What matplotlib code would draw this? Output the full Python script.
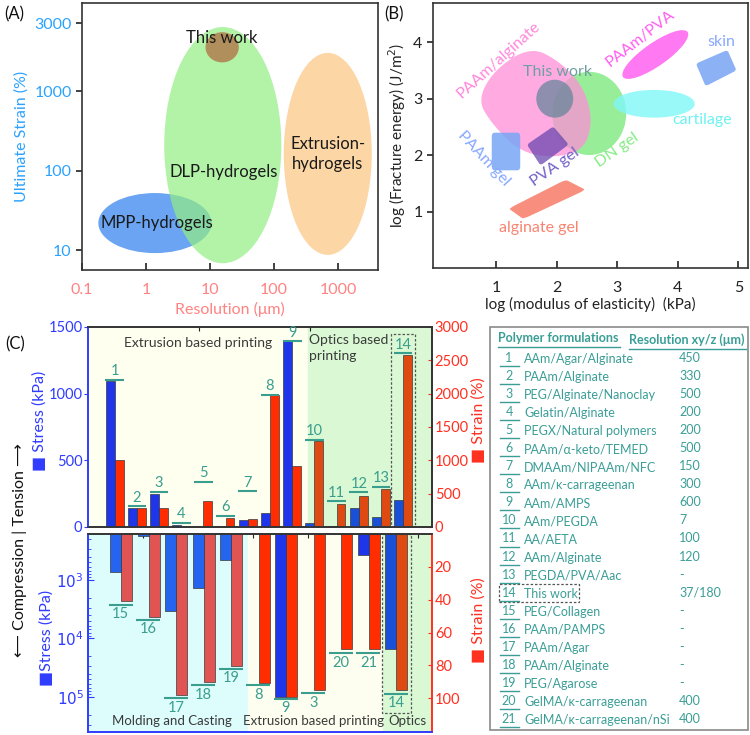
import numpy as np
import matplotlib
matplotlib.use('Agg')
import matplotlib.pyplot as plt
from matplotlib.patches import Ellipse, Polygon, Rectangle
from matplotlib.lines import Line2D
from matplotlib.ticker import LogLocator, NullFormatter, FixedLocator

plt.rcParams['font.family'] = ['Lato', 'DejaVu Sans']
plt.rcParams['axes.linewidth'] = 1.2

# ---------------- Panel A data (axis units: log10 resolution, strain-axis units)
a_names = ['MPP-hydrogels', 'DLP-hydrogels', 'Extrusion-\nhydrogels', 'This work']
a_log_res = [0.14, 1.20, 2.84, 1.19]
a_log_strain = [1.34, 2.32, 2.21, 3.55]
a_width = [1.77, 1.83, 1.375, 0.52]
a_height = [0.755, 2.97, 2.54, 0.38]
a_label_x = [0.17, 1.22, 2.84, 1.19]
a_label_y = [1.34, 1.98, 2.21, 3.67]
a_xtick_vals = ['0.1', '1', '10', '100', '1000']
a_xtick_pos = [-1, 0, 1, 2, 3]
a_ytick_vals = ['10', '100', '1000', '3000']
a_ytick_pos = [1, 2, 3, 3.85]

# ---------------- Panel B data (log modulus kPa, log fracture energy J/m2)
b_pink = [(1.57, 3.92), (2.05, 3.66), (2.44, 3.22), (2.60, 2.62), (2.45, 2.08),
          (1.90, 1.95), (1.35, 2.09), (0.90, 2.60), (0.70, 2.99), (0.98, 3.52)]
b_paam_gel = [(0.93, 2.40), (1.40, 2.40), (1.40, 1.735), (0.93, 1.735)]
b_skin = [(4.30, 3.62), (4.82, 3.86), (4.97, 3.50), (4.46, 3.22)]
b_pva = [(1.51, 2.19), (1.945, 2.51), (2.20, 2.19), (1.735, 1.82)]
b_alginate = [(1.21, 1.06), (2.15, 1.57), (2.48, 1.39), (1.45, 0.876)]
b_dn = dict(xy=(2.54, 2.74), w=1.22, h=1.47)
b_this = dict(xy=(1.97, 3.0), w=0.61, h=0.67)
b_cart = dict(xy=(3.61, 2.91), w=1.34, h=0.49)
b_pva_pva = dict(xy=(3.63, 3.78), w=1.33, h=0.40, angle=37)
b_labels = ['PAAm/alginate', 'This work', 'PAAm/PVA', 'skin', 'cartilage', 'DN gel',
            'PVA gel', 'PAAm gel', 'alginate gel']
b_lab_x = [1.04, 2.01, 3.38, 4.72, 4.41, 3.0, 1.98, 0.80, 1.71]
b_lab_y = [3.69, 3.47, 4.07, 4.0, 2.62, 2.09, 1.79, 1.94, 0.71]
b_lab_rot = [42, 0, 38, 0, 0, 35, 35, -47, 0]
b_lab_col = ['#ff86dc', '#6f9ea2', '#ff5ff0', '#86a8ff', '#6ff2f2', '#86ec86',
             '#7462c8', '#86a8ff', '#f98472']

# ---------------- Panel C data
up_ids = list(range(1, 15))
up_stress = [1096, 143, 251, 12, np.nan, np.nan, 50, 103, 1392, 28, 5, 145, 73, 200]
up_strain = [1003, 286, 286, np.nan, 386, 135, 120, 1977, 913, 1290, 341, 467, 567, 2584]
up_label_y = [1104, 155, 263, 33, 339, 83, 268, 993, 1392, 652, 193, 261, 301, 1304]
up_region = ['E'] * 9 + ['O'] * 5

lo_ids = [15, 16, 17, 18, 19, 8, 9, 3, 20, 21, 14]
lo_stress = [740, 180, 3400, 1360, 450, np.nan, 100000, np.nan, np.nan, 370, 15000]
lo_strain = [40.6, 50.7, 98, 90, 80.5, 91, 99, 95.3, 70, 70, 95]
lo_label_y = [43, 52.3, 100, 92, 82, 92, 100.4, 97, 72.6, 72.6, 97.4]
lo_region = ['M'] * 5 + ['E'] * 5 + ['O']

blue_c = {'M': '#2464ee', 'E': '#1f35ea', 'O': '#1a4fd8'}
red_c = {'M': '#e05454', 'E': '#ff2d00', 'O': '#de4a12'}

tab_names = ['AAm/Agar/Alginate', 'PAAm/Alginate', 'PEG/Alginate/Nanoclay', 'Gelatin/Alginate',
             'PEGX/Natural polymers', 'PAAm/α-keto/TEMED', 'DMAAm/NIPAAm/NFC', 'AAm/κ-carrageenan',
             'AAm/AMPS', 'AAm/PEGDA', 'AA/AETA', 'AAm/Alginate', 'PEGDA/PVA/Aac', 'This work',
             'PEG/Collagen', 'PAAm/PAMPS', 'PAAm/Agar', 'PAAm/Alginate', 'PEG/Agarose',
             'GelMA/κ-carrageenan', 'GelMA/κ-carrageenan/nSi']
tab_res = ['450', '330', '500', '200', '200', '500', '150', '300', '600', '7', '100', '120',
           '-', '37/180', '-', '-', '-', '-', '-', '400', '400']

W, H = 750, 735
fig = plt.figure(figsize=(7.5, 7.35), dpi=100)


def box(x0, y0, x1, y1):
    return [x0 / W, 1 - y1 / H, (x1 - x0) / W, (y1 - y0) / H]


def P(x, y):
    return (x / W, 1 - y / H)


def chaikin(pts, it=4):
    pts = np.asarray(pts, float)
    for _ in range(it):
        nxt = np.roll(pts, -1, axis=0)
        q = 0.75 * pts + 0.25 * nxt
        r = 0.25 * pts + 0.75 * nxt
        out = np.empty((2 * len(pts), 2))
        out[0::2] = q
        out[1::2] = r
        pts = out
    return pts


def rounded(pts, cut=0.22, it=4):
    pts = np.asarray(pts, float)
    out = []
    n = len(pts)
    for i in range(n):
        a, b = pts[i], pts[(i + 1) % n]
        out += [a, a + cut * (b - a), a + (1 - cut) * (b - a)]
    return chaikin(np.array(out), it)


# ================= Panel A
axA = fig.add_axes(box(82, 3, 378, 270))
axA.set_xlim(-1, 3.625)
axA.set_ylim(0.75, 4.107)
a_colors = ['#6aa4f2', '#92ee84', '#fcd6a4', '#b08a58']
a_alpha = [1.0, 0.7, 1.0, 0.95]
a_z = [1, 2, 1, 3]
for i in range(4):
    axA.add_patch(Ellipse((a_log_res[i], a_log_strain[i]), a_width[i], a_height[i],
                          fc=a_colors[i], ec='none', alpha=a_alpha[i], zorder=a_z[i]))
for i in range(4):
    axA.text(a_label_x[i], a_label_y[i], a_names[i], ha='center', va='center',
             fontsize=12, color='#1a1a1a', zorder=5, linespacing=1.3)
axA.set_xticks(a_xtick_pos)
axA.set_xticklabels(a_xtick_vals)
axA.set_yticks(a_ytick_pos)
axA.set_yticklabels(a_ytick_vals)
axA.tick_params(axis='x', direction='in', length=5, width=1.2, colors='#222',
                labelcolor='#ff8282', labelsize=11.5, pad=9)
axA.tick_params(axis='y', direction='out', length=4, width=1.2, colors='#222',
                labelcolor='#2aa2ff', labelsize=11.5)
axA.set_xlabel('Resolution (μm)', color='#ff8282', fontsize=11.5, labelpad=4)
axA.set_ylabel('Ultimate Strain (%)', color='#2aa2ff', fontsize=11.5, labelpad=4)
for s in axA.spines.values():
    s.set_color('#333')

# ================= Panel B
axB = fig.add_axes(box(433, 3, 748, 268))
axB.set_xlim(-0.04, 5.16)
axB.set_ylim(0.01, 4.69)
axB.add_patch(Ellipse(b_dn['xy'], b_dn['w'], b_dn['h'], fc='#86ec86', ec='none', alpha=0.85, zorder=1))
axB.add_patch(Polygon(chaikin(b_pink), closed=True, fc='#ff8ed8', ec='none', alpha=0.75, zorder=2))
axB.add_patch(Ellipse(b_this['xy'], b_this['w'], b_this['h'], fc='#5f8499', ec='none', alpha=0.7, zorder=3))
axB.add_patch(Polygon(rounded(b_pva), closed=True, fc='#6b48b0', ec='none', alpha=0.75, zorder=3))
axB.add_patch(Polygon(rounded(b_paam_gel), closed=True, fc='#79a6f6', ec='none', alpha=0.85, zorder=3))
axB.add_patch(Polygon(rounded(b_alginate), closed=True, fc='#f77a66', ec='none', alpha=0.85, zorder=3))
axB.add_patch(Polygon(rounded(b_skin), closed=True, fc='#6f9ef2', ec='none', alpha=0.8, zorder=3))
axB.add_patch(Ellipse(b_cart['xy'], b_cart['w'], b_cart['h'], fc='#80f8f8', ec='none', alpha=0.8, zorder=3))
axB.add_patch(Ellipse(b_pva_pva['xy'], b_pva_pva['w'], b_pva_pva['h'], angle=b_pva_pva['angle'],
                      fc='#ff62f0', ec='none', alpha=0.85, zorder=3))
for i in range(len(b_labels)):
    axB.text(b_lab_x[i], b_lab_y[i], b_labels[i], rotation=b_lab_rot[i], color=b_lab_col[i],
             ha='center', va='center', fontsize=11.5, zorder=6, rotation_mode='anchor')
axB.set_xticks([1, 2, 3, 4, 5])
axB.set_yticks([1, 2, 3, 4])
axB.tick_params(axis='x', direction='in', length=5, width=1.2, colors='#222', labelsize=11.5, pad=9)
axB.tick_params(axis='y', direction='out', length=4, width=1.2, colors='#222', labelsize=11.5)
axB.set_xlabel('log (modulus of elasticity)  (kPa)', fontsize=11, color='#222', labelpad=2)
axB.set_ylabel('log (Fracture energy) (J/m$^2$)', fontsize=11, color='#222', labelpad=4)
for s in axB.spines.values():
    s.set_color('#333')

# ================= Panel C upper
bw = 0.4
teal = '#3a9e8e'
axUb = fig.add_axes(box(88, 327, 432, 527))
axUb.set_xlim(0, 15.5)
axUb.axvspan(0, 9.9, color='#fffff0')
axUb.axvspan(9.9, 15.5, color='#d9f8d3')
axUb.axis('off')
axU = fig.add_axes(box(88, 327, 432, 527))
axU.set_xlim(0, 15.5)
axU.set_ylim(0, 1500)
axU2 = axU.twinx()
axU2.set_ylim(0, 3000)
xu = np.array(up_ids, float)
axU.bar(xu, up_stress, width=bw, color=[blue_c[r] for r in up_region], edgecolor='#3a3a3a',
        linewidth=0.5, zorder=2)
axU2.bar(xu + bw, up_strain, width=bw, color=[red_c[r] for r in up_region], edgecolor='#3a3a3a',
         linewidth=0.5, zorder=2)
for i, n in enumerate(up_ids):
    axU.plot([xu[i] - 0.22, xu[i] + 0.62], [up_label_y[i]] * 2, color=teal, lw=1.5, zorder=5,
             solid_capstyle='butt', clip_on=False)
    axU.text(xu[i] + 0.2, up_label_y[i] + 12, str(n), color=teal, ha='center', va='bottom',
             fontsize=10.5, zorder=5, clip_on=False)
axU.add_patch(Rectangle((13.65, 0), 1.09, 1447, fill=False, ec='#555', ls=(0, (2, 1.5)), lw=0.9, zorder=6))
axU.text(4.96, 1380, 'Extrusion based printing', ha='center', va='center', fontsize=10, color='#3a3a3a')
axU.text(9.95, 1447, 'Optics based\nprinting', ha='left', va='top', fontsize=10, color='#3a3a3a',
         linespacing=1.35)
axU.set_yticks([0, 500, 1000, 1500])
axU2.set_yticks([0, 500, 1000, 1500, 2000, 2500, 3000])
axU.tick_params(axis='y', direction='out', length=3, colors='#2f3cff', labelcolor='#2f3cff', labelsize=10.5, pad=1)
axU2.tick_params(axis='y', direction='in', length=3, colors='#ff3020', labelcolor='#ff3020', labelsize=10.5, pad=2)
axU.set_xticks([5, 10])
axU.tick_params(axis='x', top=True, bottom=False, labelbottom=False, direction='in', length=3,
                colors='#222')
axU.spines['left'].set_color('#2f3cff')
axU2.spines['left'].set_color('#2f3cff')
for k in ['right', 'top', 'bottom']:
    axU2.spines[k].set_color('#333')
    axU.spines[k].set_color('#333')
axU.set_zorder(axU2.get_zorder() + 1)
axU.patch.set_visible(False)
axU2.patch.set_visible(False)

# ================= Panel C lower
axLb = fig.add_axes(box(88, 534, 432, 732))
axLb.set_xlim(0, 12.5)
axLb.axvspan(0, 5.8, color='#ddfcfc')
axLb.axvspan(5.8, 10.72, color='#fefef0')
axLb.axvspan(10.72, 12.5, color='#d9f8d3')
axLb.axis('off')
axL = fig.add_axes(box(88, 534, 432, 732))
axL.set_yscale('log')
ytop, ybot = 164, 396000
axL.set_xlim(0, 12.5)
axL.set_ylim(ybot, ytop)
axL2 = axL.twinx()
axL2.set_ylim(120.6, 0)
xl = np.arange(1, len(lo_ids) + 1, dtype=float)
ls_arr = np.array(lo_stress, float)
axL.bar(xl, ls_arr - ytop, bottom=ytop, width=bw, color=[blue_c[r] for r in lo_region],
        edgecolor='#3a3a3a', linewidth=0.5, zorder=2)
axL2.bar(xl + bw, lo_strain, width=bw, color=[red_c[r] for r in lo_region], edgecolor='#3a3a3a',
         linewidth=0.5, zorder=2)
for i, n in enumerate(lo_ids):
    axL2.plot([xl[i] - 0.25, xl[i] + 0.62], [lo_label_y[i]] * 2, color=teal, lw=1.5, zorder=5,
              solid_capstyle='butt')
    axL2.text(xl[i] + 0.19, lo_label_y[i] + 1.5, str(n), color=teal, ha='center', va='top',
              fontsize=10.5, zorder=5)
axL2.add_patch(Rectangle((10.68, 0), 1.06, 109, fill=False, ec='#555', ls=(0, (2, 1.5)), lw=0.9, zorder=6))
axL2.text(3.05, 114, 'Molding and Casting', ha='center', va='center', fontsize=9.5, color='#3a3a3a')
axL2.text(8.2, 114, 'Extrusion based printing', ha='center', va='center', fontsize=9.5, color='#3a3a3a')
axL2.text(11.62, 114, 'Optics', ha='center', va='center', fontsize=9.5, color='#3a3a3a')
axL.yaxis.set_major_locator(FixedLocator([1e3, 1e4, 1e5]))
axL.set_yticklabels(['$10^3$', '$10^4$', '$10^5$'])
axL.yaxis.set_minor_locator(LogLocator(base=10, subs=np.arange(2, 10)))
axL.yaxis.set_minor_formatter(NullFormatter())
axL.tick_params(axis='y', which='both', direction='in', colors='#2f3cff', labelcolor='#2f3cff',
                labelsize=11, pad=3)
axL.tick_params(axis='y', which='minor', length=2)
axL.tick_params(axis='y', which='major', length=4)
axL2.set_yticks([20, 40, 60, 80, 100])
axL2.tick_params(axis='y', direction='in', length=3, colors='#ff3020', labelcolor='#ff3020', labelsize=10.5, pad=2)
axL.set_xticks([2, 4, 6, 8, 10, 12])
axL.tick_params(axis='x', top=True, bottom=False, labelbottom=False, direction='in', length=3,
                colors='#222')
for a in (axL, axL2):
    a.spines['left'].set_color('#2f3cff')
    a.spines['bottom'].set_color('#2f3cff')
    a.spines['right'].set_color('#ff3020')
    a.spines['top'].set_color('#333')
axL.set_zorder(axL2.get_zorder() + 1)
axL.patch.set_visible(False)
axL2.patch.set_visible(False)

# side labels
fig.text(*P(20, 550), '⟵ Compression | Tension ⟶', rotation=90, ha='center', va='center',
         fontsize=11.5, color='#111')
fig.text(*P(40, 421), '■ Stress (kPa)', rotation=90, ha='center', va='center', fontsize=11.5, color='#2f3cff')
fig.text(*P(47, 638), '■Stress (kPa)', rotation=90, ha='center', va='center', fontsize=11.5, color='#2f3cff')
fig.text(*P(479, 420), '■ Strain (%)', rotation=90, ha='center', va='center', fontsize=11.5, color='#ff3020')
fig.text(*P(479, 620), '■ Strain (%)', rotation=90, ha='center', va='center', fontsize=11.5, color='#ff3020')

fig.text(*P(4, 14), '(A)', fontsize=12, va='center', color='#111')
fig.text(*P(384, 14), '(B)', fontsize=12, va='center', color='#111')
fig.text(*P(5, 344), '(C)', fontsize=12, va='center', color='#111')

# ================= Table
fig.add_artist(Rectangle(P(490, 730), 258 / W, 403 / H, transform=fig.transFigure, fill=False,
                         ec='#8a8a8a', lw=1.2))
tteal = '#3a9e96'
fig.text(*P(498, 338), 'Polymer formulations', color=tteal, fontsize=9, weight='bold', va='center')
fig.add_artist(Line2D([498 / W, 620 / W], [1 - 347 / H] * 2, color=tteal, lw=1))
fig.text(*P(629, 340), 'Resolution xy/z (μm)', color=tteal, fontsize=9, weight='bold', va='center')
fig.add_artist(Line2D([629 / W, 746 / W], [1 - 349 / H] * 2, color=tteal, lw=1))
for k in range(21):
    y = 359 + k * 18.05
    fig.text(*P(509, y - 1), str(k + 1), color=tteal, fontsize=9, ha='center', va='center')
    fig.add_artist(Line2D([500 / W, 519 / W], [1 - (y + 7) / H] * 2, color=tteal, lw=1))
    fig.text(*P(524, y), tab_names[k], color=tteal, fontsize=9, va='center')
    fig.text(*P(679, y - 1), tab_res[k], color=tteal, fontsize=9, va='center')
fig.add_artist(Rectangle(P(499, 602), 80 / W, 18 / H, transform=fig.transFigure, fill=False,
                         ec='#555', ls=(0, (2, 1.5)), lw=0.9))

fig.savefig('out.png', dpi=100, facecolor='white')
